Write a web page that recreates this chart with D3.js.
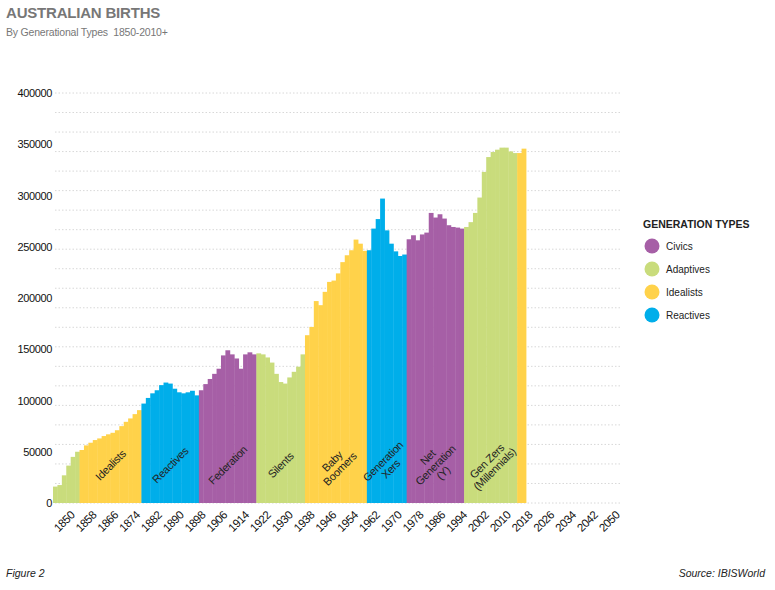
<!DOCTYPE html>
<html>
<head>
  <meta charset="utf-8">
  <title>Australian Births</title>
  <script src="https://d3js.org/d3.v7.min.js"></script>
  <style>
    body { margin: 0; background: #fff; }
    svg { display: block; font-family: "Liberation Sans", Arial, sans-serif; }
  </style>
</head>
<body>
<svg class="chart" width="775" height="590"></svg>
<script>

// Generations in order, with their type and the label written on the bars
const generations = ["Adaptives", "Idealists", "Reactives", "Federation", "Silents",
  "Baby Boomers", "Generation Xers", "Net Generation (Y)", "Gen Zers (Millennials)", "Idealists"];
const genTypes = ["Adaptives", "Idealists", "Reactives", "Civics", "Adaptives",
  "Idealists", "Reactives", "Civics", "Adaptives", "Idealists"];
const genLabels = [[], ["Idealists"], ["Reactives"], ["Federation"], ["Silents"],
  ["Baby", "Boomers"], ["Generation", "Xers"], ["Net", "Generation", "(Y)"], ["Gen Zers", "(Millennials)"], []];

// Births per bar, one array per generation
const adaptives1 = [16000, 17500, 27000, 36500, 45000, 50000];
const idealists1 = [51700, 56200, 58800, 61400, 63000, 65300, 67000, 68500, 71000, 75000, 79200, 82500, 86700, 90600];
const reactives1 = [97000, 102500, 107000, 110000, 115000, 117500, 116500, 111500, 108000, 107000, 108000, 109500, 105000];
const federation = [110000, 116000, 121000, 126000, 131000, 144000, 149000, 145000, 141000, 131000, 145000, 147000, 145000];
const silents = [146000, 145000, 142000, 137000, 126000, 118000, 116500, 122500, 128000, 133000, 145000];
const boomers = [163700, 171800, 197000, 193000, 206000, 215700, 217000, 224000, 235000, 241700, 246600, 257000, 253000, 246000];
const genX = [246600, 267700, 277000, 297000, 266000, 253000, 245500, 241000, 242400];
const netGen = [257300, 261200, 256300, 262000, 263800, 283000, 278500, 281700, 277500, 271000, 269300, 268700, 267700];
const genZ = [269300, 274000, 283000, 298000, 323000, 337500, 342400, 344700, 346700, 346700, 343000, 341400];
const idealists2 = [341400, 345700];
const births = [adaptives1, idealists1, reactives1, federation, silents, boomers, genX, netGen, genZ, idealists2];

// Axis ticks
const yTicks = [0, 50000, 100000, 150000, 200000, 250000, 300000, 350000, 400000];
const yearTicks = d3.range(1850, 2051, 8);

// Legend
const legendTypes = ["Civics", "Adaptives", "Idealists", "Reactives"];
const typeColors = ["#a65fa6", "#c9dc7c", "#ffd24a", "#00aeea"];

const color = d3.scaleOrdinal().domain(legendTypes).range(typeColors);

// flatten to one row per bar
const bars = [];
births.forEach((vals, g) => vals.forEach(v => bars.push({gen: g, type: genTypes[g], value: v})));

const svg = d3.select(".chart");

const x = d3.scaleBand()
  .domain(d3.range(bars.length))
  .range([53, 526])
  .padding(0);

const y = d3.scaleLinear()
  .domain([0, 400000])
  .range([503, 93]);

const xYear = d3.scaleLinear()
  .domain([1850, 2050])
  .range([71, 616]);

// Title
svg.append("text")
  .attr("x", 6).attr("y", 18)
  .style("font-size", "15px").style("font-weight", "bold")
  .style("fill", "#777").style("letter-spacing", "-0.2px")
  .text("AUSTRALIAN BIRTHS");
svg.append("text")
  .attr("x", 6).attr("y", 36)
  .style("font-size", "10.5px").style("fill", "#777").style("letter-spacing", "-0.2px")
  .style("white-space", "pre")
  .text("By Generational Types  1850-2010+");

// dotted grid lines
svg.append("g")
  .selectAll("line")
  .data(d3.range(22).map(i => i * 400000 / 21))
  .join("line")
    .attr("x1", 55).attr("x2", 620)
    .attr("y1", d => y(d)).attr("y2", d => y(d))
    .style("stroke", "#d8d8d8")
    .style("stroke-dasharray", "1.5,2");

// Bars
svg.append("g")
  .selectAll("rect")
  .data(bars)
  .join("rect")
    .attr("x", (d, i) => x(i))
    .attr("y", d => y(d.value))
    .attr("width", x.bandwidth() + 0.4)
    .attr("height", d => y(0) - y(d.value))
    .style("fill", d => color(d.type));

// Labels on the generations
const genIndex = [];
let start = 0;
births.forEach((vals, g) => { genIndex.push([start, start + vals.length]); start += vals.length; });

const labels = svg.append("g")
  .selectAll("text")
  .data(genLabels.map((lines, g) => ({lines, g})).filter(d => d.lines.length))
  .join("text")
    .attr("transform", d => {
      const mid = (x(genIndex[d.g][0]) + x(genIndex[d.g][1] - 1) + x.bandwidth()) / 2;
      return `translate(${mid},465) rotate(-45)`;
    })
    .attr("text-anchor", "middle")
    .style("font-size", "11px")
    .style("fill", "#222")
    .style("letter-spacing", "-0.3px");
labels.selectAll("tspan")
  .data(d => d.lines.map((t, i) => ({t, i, n: d.lines.length})))
  .join("tspan")
    .attr("x", 0)
    .attr("dy", d => d.i === 0 ? (-(d.n - 1) / 2 * 11 + 4) : 11)
    .text(d => d.t);

// Y axis
svg.append("g")
  .attr("transform", "translate(55,0)")
  .style("font-size", "11px")
  .call(d3.axisLeft(y).tickValues(yTicks).tickSize(0).tickPadding(3).tickFormat(d3.format("d")))
  .call(g => g.select(".domain").remove())
  .selectAll("text")
    .style("fill", "#111")
    .style("letter-spacing", "-0.35px")
    .style("font-family", "Liberation Sans, Arial, sans-serif");

// X axis (years)
svg.append("g")
  .attr("transform", "translate(0,503)")
  .call(d3.axisBottom(xYear).tickValues(yearTicks).tickSize(0).tickFormat(d3.format("d")))
  .call(g => g.select(".domain").remove())
  .selectAll("text")
    .attr("x", 0).attr("y", 0).attr("dy", "0.35em")
    .attr("text-anchor", "end")
    .attr("transform", "translate(1,10) rotate(-45)")
    .style("font-size", "11.5px")
    .style("fill", "#111")
    .style("letter-spacing", "-0.5px")
    .style("font-family", "Liberation Sans, Arial, sans-serif");

// Legend
const legend = svg.append("g").attr("transform", "translate(643,0)");
legend.append("text")
  .attr("x", 0).attr("y", 228)
  .style("font-size", "10.5px").style("font-weight", "bold").style("fill", "#222")
  .text("GENERATION TYPES");
const items = legend.selectAll(".item")
  .data(legendTypes)
  .join("g")
    .attr("class", "item")
    .attr("transform", (d, i) => `translate(0,${246 + i * 23})`);
items.append("circle")
  .attr("cx", 9).attr("cy", 0).attr("r", 7.5)
  .style("fill", d => color(d));
items.append("text")
  .attr("x", 23).attr("y", 0).attr("dy", "0.35em")
  .style("font-size", "10px").style("fill", "#222")
  .text(d => d);

// Footer
svg.append("text")
  .attr("x", 6).attr("y", 577)
  .style("font-size", "10.5px").style("font-style", "italic").style("fill", "#222")
  .text("Figure 2");
svg.append("text")
  .attr("x", 765).attr("y", 577)
  .attr("text-anchor", "end")
  .style("font-size", "10.5px").style("font-style", "italic").style("fill", "#222")
  .text("Source: IBISWorld");

</script>
</body>
</html>
